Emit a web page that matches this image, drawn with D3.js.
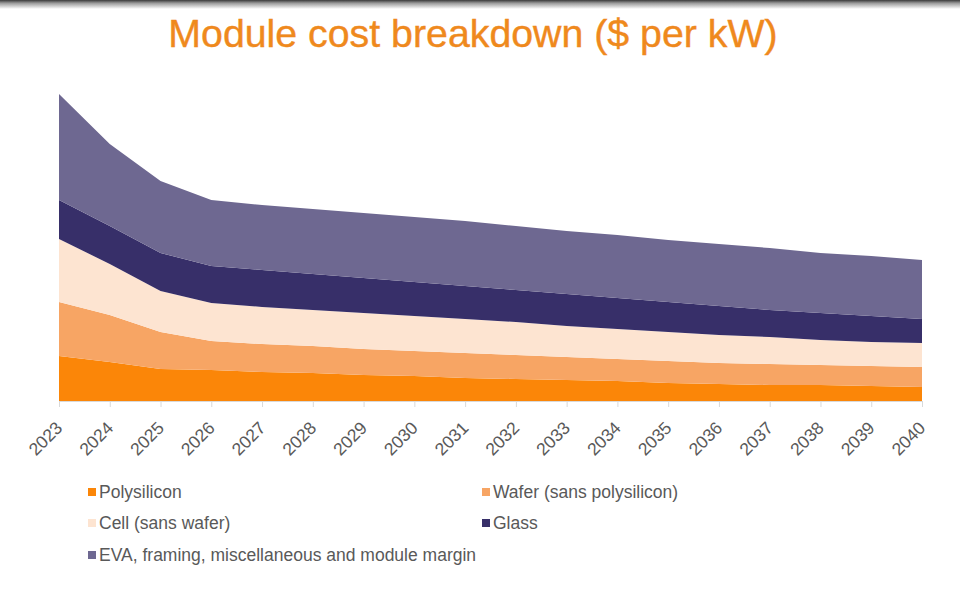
<!DOCTYPE html>
<html>
<head>
<meta charset="utf-8">
<script src="https://cdn.jsdelivr.net/npm/d3@7"></script>
<style>
  html, body { margin: 0; padding: 0; background: #fff; }
  svg { display: block; font-family: "Liberation Sans", Arial, sans-serif; }
</style>
</head>
<body>
<svg id="chart" width="960" height="589"></svg>
<script>
// ---- data (approx. $ per kW) ----
const years = [2023, 2024, 2025, 2026, 2027, 2028, 2029, 2030, 2031, 2032, 2033, 2034, 2035, 2036, 2037, 2038, 2039, 2040];
const polysilicon = [45, 39, 32, 31, 29, 28, 26, 25, 23, 22, 21, 20, 18, 17, 16, 16, 15, 14];
const wafer       = [54, 47, 37, 29, 28, 27, 26, 25, 25, 24, 23, 22, 22, 21, 21, 20, 20, 20];
const cell        = [63, 51, 41, 38, 37, 36, 36, 35, 34, 33, 31, 30, 29, 28, 27, 25, 24, 24];
const glass       = [39, 38, 38, 37, 37, 36, 35, 34, 33, 32, 32, 31, 30, 29, 27, 27, 26, 24];
const eva         = [106, 82, 72, 66, 65, 65, 65, 65, 65, 64, 63, 63, 62, 62, 62, 60, 60, 59];
const seriesNames = ["Polysilicon", "Wafer (sans polysilicon)", "Cell (sans wafer)", "Glass", "EVA, framing, miscellaneous and module margin"];
const seriesKeys = ["poly", "wafer", "cell", "glass", "eva"];
const colors = ["#FB8608", "#F7A564", "#FDE4D1", "#372F69", "#6E6891"];
const titleText = "Module cost breakdown ($ per kW)";

const table = years.map((y, i) => ({
  year: y, poly: polysilicon[i], wafer: wafer[i], cell: cell[i], glass: glass[i], eva: eva[i]
}));

const svg = d3.select("#chart");

// top dark edge (screen edge shadow)
const defs = svg.append("defs");
const grad = defs.append("linearGradient").attr("id", "topShade").attr("x1", 0).attr("y1", 0).attr("x2", 0).attr("y2", 1);
grad.append("stop").attr("offset", "0%").attr("stop-color", "#3a3a3a");
grad.append("stop").attr("offset", "35%").attr("stop-color", "#9a9a9a");
grad.append("stop").attr("offset", "100%").attr("stop-color", "#ffffff");
svg.append("rect").attr("x", 0).attr("y", 0).attr("width", 960).attr("height", 9).attr("fill", "url(#topShade)");

// title
svg.append("text")
  .attr("x", 473).attr("y", 47)
  .attr("text-anchor", "middle")
  .attr("fill", "#EF891D")
  .attr("stroke", "#EF891D")
  .attr("stroke-width", 0.4)
  .style("font-size", "39.3px")
  .text(titleText);

const x = d3.scaleLinear().domain([2023, 2040]).range([59, 922]);
const y = d3.scaleLinear().domain([0, 310]).range([401, 91]);

const stack = d3.stack().keys(seriesKeys);
const stacked = stack(table);

const area = d3.area()
  .x(d => x(d.data.year))
  .y0(d => y(d[0]))
  .y1(d => y(d[1]));

svg.append("g").selectAll("path")
  .data(stacked)
  .join("path")
  .attr("fill", (d, i) => colors[i])
  .attr("d", area);

// x axis
const axis = d3.axisBottom(x)
  .tickValues(years)
  .tickFormat(d3.format("d"))
  .tickSize(6)
  .tickSizeOuter(0);

const gx = svg.append("g")
  .attr("transform", `translate(0,${y(0)})`)
  .call(axis);
gx.select(".domain").attr("stroke", "#D9D9D9");
gx.selectAll(".tick line").attr("stroke", "#D9D9D9");
gx.selectAll(".tick text")
  .attr("x", 0).attr("y", 0).attr("dy", 0)
  .attr("transform", "translate(4,28) rotate(-45)")
  .style("text-anchor", "end")
  .style("font-size", "17.5px")
  .style("font-family", "'Liberation Sans', Arial, sans-serif")
  .attr("fill", "#595959");

// legend
const legendPos = [
  { x: 88, y: 492 }, { x: 482, y: 492 },
  { x: 88, y: 523 }, { x: 482, y: 523 },
  { x: 88, y: 555 }
];
const legend = svg.append("g");
seriesNames.forEach((name, i) => {
  const p = legendPos[i];
  legend.append("rect")
    .attr("x", p.x).attr("y", p.y - 4)
    .attr("width", 8).attr("height", 8)
    .attr("fill", colors[i]);
  legend.append("text")
    .attr("x", p.x + 11).attr("y", p.y)
    .attr("dominant-baseline", "central")
    .attr("fill", "#595959")
    .style("font-size", "17.5px")
    .text(name);
});
</script>
</body>
</html>
